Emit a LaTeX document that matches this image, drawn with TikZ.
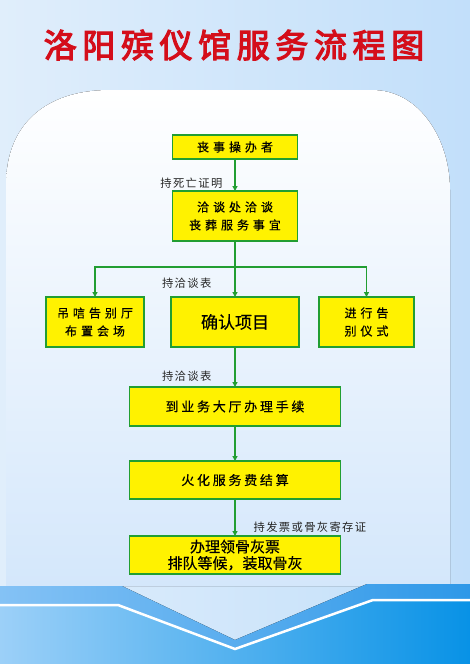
\documentclass[tikz,border=0pt]{standalone}
\usepackage{fontspec}
\usetikzlibrary{positioning,arrows.meta}
\newfontfamily\cjk{Noto Sans CJK SC}[FakeBold=0.4]
\newfontfamily\cjkwide{Noto Sans CJK SC}[LetterSpace=33,FakeBold=0.4]
\newfontfamily\cjkmid{Noto Sans CJK SC}[LetterSpace=21,FakeBold=0.4]
\newfontfamily\cjknote{Noto Sans CJK SC}[LetterSpace=12]
\newfontfamily\cjktitle{Noto Sans CJK SC}[LetterSpace=17,FakeBold=3.5]
\definecolor{boxyellow}{RGB}{255,242,0}
\definecolor{boxgreen}{RGB}{34,158,50}
\definecolor{titlered}{RGB}{212,14,26}
\definecolor{skyleft}{RGB}{224,238,251}
\definecolor{skyright}{RGB}{194,223,250}
\definecolor{panelbottom}{RGB}{212,231,251}
\definecolor{bandleft}{RGB}{132,194,245}
\definecolor{bandright}{RGB}{46,152,232}
\definecolor{sealeft}{RGB}{156,208,248}
\definecolor{searight}{RGB}{8,146,230}

\begin{document}
\begin{tikzpicture}[
            x=1pt, y=-1pt,
            stepbox/.style={rectangle, draw=boxgreen, line width=1.5pt, fill=boxyellow,
                            inner sep=0pt, outer sep=0pt, align=center, text=black,
                            font=\fontsize{12}{18}\selectfont\cjkwide},
            widebox/.style={stepbox, minimum width=211pt, minimum height=38pt,
                            font=\fontsize{13}{16}\selectfont\cjkmid},
            note/.style={inner sep=0pt, text=black!85, font=\fontsize{11.3}{13}\selectfont\cjknote},
            title/.style={inner sep=0pt, text=titlered, font=\fontsize{33}{36}\selectfont\cjktitle},
            link/.style={draw=boxgreen, line width=1.3pt},
            arrow/.style={link, -{Triangle[length=5pt,width=5pt]}}
        ]
        \useasboundingbox (0,0) rectangle (470,664);
        % background, panel and bottom band
        \fill[left color=skyleft, right color=skyright] (0,0) rectangle (470,664);
        \fill[top color=white, bottom color=panelbottom]
            (6,586) -- (6,185) .. controls (6,125) and (45,90) .. (110,90)
            -- (372,90) .. controls (420,90) and (450,140) .. (450,190) -- (450,586) -- cycle;
        \fill[left color=bandleft, right color=bandright]
            (0,586) -- (122,586) -- (235,640) -- (367,584) -- (470,584) -- (470,664) -- (0,664) -- cycle;
        \fill[left color=sealeft, right color=searight]
            (0,605) -- (118,605) -- (235,649) -- (373,600) -- (470,600) -- (470,664) -- (0,664) -- cycle;
        \draw[white, line width=2.5pt] (0,605) -- (118,605) -- (235,649) -- (373,600) -- (470,600);

        \node[title] (title) at (234,45) {洛阳殡仪馆服务流程图};

        \node[stepbox, minimum width=125pt, minimum height=24pt] (organizer) at (235,147) {丧事操办者};
        \node[stepbox, minimum width=125pt, minimum height=50pt, below=32pt of organizer] (consult) {洽谈处洽谈\\丧葬服务事宜};
        \coordinate[below=26pt of consult] (split);
        \node[stepbox, minimum width=128pt, minimum height=50pt, below=56pt of consult,
              font=\fontsize{17}{20}\selectfont\cjk] (confirm) {确认项目};
        \node[stepbox, minimum width=98pt, minimum height=50pt, left=27pt of confirm] (hall) {吊唁告别厅\\布置会场};
        \node[stepbox, minimum width=95pt, minimum height=50pt, right=20pt of confirm] (farewell) {进行告\\别仪式};
        \node[widebox, minimum height=39pt, below=40pt of confirm] (procedure) {到业务大厅办理手续};
        \node[widebox, below=35pt of procedure] (cremation) {火化服务费结算};
        \node[widebox, below=37pt of cremation, font=\fontsize{15}{16.5}\selectfont\cjk] (ashes) {办理领骨灰票\\排队等候，装取骨灰};

        \draw[arrow] (organizer) -- node[note, pos=0.75, left=12pt]{持死亡证明} (consult);
        \draw[link] (consult) -- (split);
        \draw[arrow] (split) -| (hall);
        \draw[arrow] (split) -- node[note, pos=0.53, left=23pt]{持洽谈表} (confirm);
        \draw[arrow] (split) -| (farewell);
        \draw[arrow] (confirm) -- node[note, pos=0.72, left=23pt]{持洽谈表} (procedure);
        \draw[arrow] (procedure) -- (cremation);
        \draw[arrow] (cremation) -- node[note, pos=0.76, right=18pt]{持发票或骨灰寄存证} (ashes);
\end{tikzpicture}
\end{document}
